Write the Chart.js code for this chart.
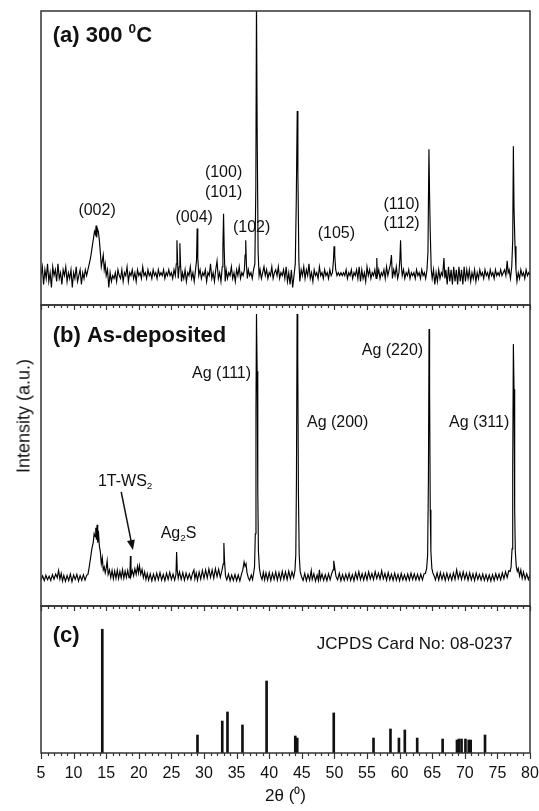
<!DOCTYPE html>
<html><head><meta charset="utf-8">
<script src="https://cdn.jsdelivr.net/npm/chart.js@4.4.0/dist/chart.umd.min.js"></script>
<style>
html,body{margin:0;padding:0;background:#fff;}
#wrap{position:relative;width:539px;height:811px;background:#fff;overflow:hidden;}
#wrap canvas{position:absolute;left:0;top:0;}
#ytitle{position:absolute;left:23.5px;top:416px;transform:translate(-50%,-50%) rotate(-90deg);font:18px "Liberation Sans",Arial,sans-serif;color:#111;white-space:nowrap;}
</style></head><body>
<div id="wrap">
<canvas id="ca" width="539" height="811"></canvas>
<canvas id="cb" width="539" height="811"></canvas>
<canvas id="cc" width="539" height="811"></canvas>
<div id="ytitle">Intensity (a.u.)</div>
</div>
<script>
// ---------------- DATA ----------------
const xTicks = [5,10,15,20,25,30,35,40,45,50,55,60,65,70,75,80];

// (a) annealed at 300 °C : [2θ, intensity (a.u.)]
const scanA = [
[5.0,10],[5.2,13],[5.4,7],[5.6,12],[5.8,9],[6.0,14],[6.2,8],[6.4,11],[6.6,6],[6.8,13],
[7.0,10],[7.2,12],[7.4,8],[7.6,14],[7.8,9],[8.0,11],[8.2,7],[8.4,12],[8.6,10],[8.8,13],
[9.0,8],[9.2,11],[9.4,9],[9.6,12],[9.8,6],[10.0,11],[10.2,9],[10.4,13],[10.6,8],[10.8,10],
[11.0,12],[11.2,7],[11.4,11],[11.6,9],[11.8,12],[12.0,10],[12.2,12],[12.4,14],[12.6,16],[12.8,19],
[13.0,22],[13.2,25],[13.35,24],[13.45,27],[13.55,23],[13.65,26],[13.8,25],[13.95,22],[14.1,18],[14.25,13],
[14.4,15],[14.55,17],[14.7,12],[14.85,14],[15.0,10],[15.2,12],[15.4,6],[15.6,11],[15.8,8],[16.0,10],
[16.2,9],[16.4,11],[16.6,8],[16.8,12],[17.0,10],[17.2,9],[17.4,12],[17.6,8],[17.8,11],[18.0,10],
[18.2,13],[18.4,8],[18.6,11],[18.8,10],[19.0,12],[19.2,9],[19.4,11],[19.6,8],[19.8,12],[20.0,10],
[20.2,11],[20.4,9],[20.6,13],[20.8,10],[21.0,11],[21.2,9],[21.4,12],[21.6,10],[21.8,11],[22.0,9],
[22.2,12],[22.4,10],[22.6,11],[22.8,9],[23.0,12],[23.2,10],[23.4,11],[23.6,10],[23.8,12],[24.0,9],
[24.2,11],[24.4,10],[24.6,12],[24.8,10],[25.0,11],[25.2,9],[25.4,12],[25.6,10],[25.75,14],[25.85,22],
[25.95,15],[26.05,9],[26.2,13],[26.3,21],[26.4,14],[26.55,8],[26.7,11],[26.9,9],[27.1,12],[27.3,8],
[27.5,11],[27.7,10],[27.9,13],[28.1,9],[28.3,11],[28.5,8],[28.7,12],[28.85,15],[28.95,26],[29.05,16],
[29.2,10],[29.4,12],[29.6,9],[29.8,11],[30.0,10],[30.2,12],[30.4,8],[30.6,11],[30.8,10],[31.0,14],
[31.2,9],[31.4,11],[31.6,8],[31.8,12],[32.0,15],[32.2,9],[32.4,11],[32.6,8],[32.8,13],[32.9,20],
[33.0,31],[33.1,19],[33.25,8],[33.4,12],[33.6,9],[33.8,11],[34.0,10],[34.2,13],[34.4,9],[34.6,11],
[34.8,8],[35.0,12],[35.2,10],[35.4,13],[35.6,9],[35.8,11],[36.0,10],[36.2,12],[36.3,17],[36.4,22],
[36.5,14],[36.65,9],[36.8,12],[37.0,10],[37.2,11],[37.4,9],[37.6,12],[37.8,14],[37.95,40],[38.05,104],
[38.15,60],[38.3,18],[38.45,10],[38.6,12],[38.8,9],[39.0,11],[39.2,13],[39.4,10],[39.6,12],[39.8,9],
[40.0,11],[40.2,10],[40.4,13],[40.6,9],[40.8,11],[41.0,12],[41.2,10],[41.4,13],[41.6,9],[41.8,11],
[42.0,10],[42.2,12],[42.4,9],[42.6,13],[42.8,8],[43.0,11],[43.2,7],[43.4,12],[43.6,6],[43.8,10],
[44.0,14],[44.15,35],[44.3,66],[44.4,45],[44.55,15],[44.7,8],[44.9,12],[45.1,10],[45.3,13],[45.5,9],
[45.7,12],[45.9,10],[46.1,14],[46.3,9],[46.5,11],[46.7,8],[46.9,12],[47.1,10],[47.3,11],[47.5,9],
[47.7,13],[47.9,10],[48.1,11],[48.3,9],[48.5,12],[48.7,10],[48.9,11],[49.1,9],[49.3,12],[49.5,10],
[49.7,11],[49.85,15],[49.95,20],[50.05,17],[50.2,12],[50.4,10],[50.6,11],[50.8,10],[51.0,11],[51.2,10],
[51.4,11],[51.6,10],[51.8,12],[52.0,9],[52.2,11],[52.4,10],[52.6,12],[52.8,9],[53.0,11],[53.2,10],
[53.4,12],[53.6,9],[53.8,13],[54.0,8],[54.2,12],[54.4,9],[54.6,11],[54.8,8],[55.0,13],[55.2,10],
[55.4,12],[55.6,9],[55.8,11],[56.0,10],[56.2,12],[56.4,9],[56.5,16],[56.6,10],[56.8,12],[57.0,9],
[57.2,11],[57.4,10],[57.6,12],[57.8,9],[58.0,13],[58.2,10],[58.4,12],[58.6,14],[58.75,17],[58.9,9],
[59.1,12],[59.3,10],[59.5,13],[59.7,9],[59.9,11],[60.05,16],[60.15,22],[60.25,14],[60.4,10],[60.6,12],
[60.8,9],[61.0,11],[61.2,10],[61.4,12],[61.6,9],[61.8,11],[62.0,10],[62.2,11],[62.4,9],[62.6,12],
[62.8,10],[63.0,11],[63.2,9],[63.4,12],[63.6,10],[63.8,11],[64.0,9],[64.2,12],[64.35,18],[64.5,53],
[64.6,37],[64.7,25],[64.85,12],[65.0,9],[65.2,12],[65.4,7],[65.6,11],[65.8,8],[66.0,12],[66.2,9],
[66.4,11],[66.6,10],[66.8,16],[66.95,9],[67.1,12],[67.3,7],[67.5,13],[67.7,8],[67.9,12],[68.1,7],
[68.3,13],[68.5,8],[68.7,12],[68.9,7],[69.1,13],[69.3,8],[69.5,12],[69.7,7],[69.9,13],[70.1,8],
[70.3,12],[70.5,9],[70.7,12],[70.9,8],[71.1,11],[71.3,9],[71.5,12],[71.7,8],[71.9,11],[72.1,9],
[72.3,12],[72.5,10],[72.7,11],[72.9,9],[73.1,12],[73.3,10],[73.5,11],[73.7,9],[73.9,12],[74.1,10],
[74.3,11],[74.5,9],[74.7,12],[74.9,10],[75.1,11],[75.3,10],[75.5,12],[75.7,10],[75.9,11],[76.1,12],
[76.3,10],[76.5,15],[76.65,11],[76.8,12],[77.0,9],[77.2,13],[77.35,22],[77.45,54],[77.55,33],[77.7,20],
[77.85,12],[78.0,8],[78.2,11],[78.4,9],[78.6,12],[78.8,10],[79.0,11],[79.2,9],[79.4,12],[79.6,10],
[79.8,11],[80.0,10]
];

// (b) as-deposited : [2θ, intensity (a.u.)]
const scanB = [
[5.0,8.6],[5.25,10.0],[5.5,8.4],[5.75,10.2],[6.0,8.7],[6.25,9.9],[6.5,8.5],[6.75,10.4],[7.0,8.9],[7.25,10.6],
[7.5,9.4],[7.7,11.8],[7.9,8.9],[8.1,10.8],[8.3,8.3],[8.5,10.2],[8.75,8.2],[9.0,10.1],[9.25,8.4],[9.5,10.6],
[9.75,8.1],[10.0,10.3],[10.25,8.8],[10.5,10.5],[10.75,8.3],[11.0,10.1],[11.25,8.5],[11.5,10.4],[11.75,8.6],[12.0,10.2],
[12.2,10.5],[12.4,13],[12.6,16],[12.8,19],[13.0,21],[13.15,24],[13.3,23],[13.4,26],[13.5,22],[13.6,27],
[13.7,21],[13.8,25],[13.95,20],[14.1,18],[14.25,14],[14.4,16],[14.55,12],[14.7,13],[14.85,11],[15.0,12.5],
[15.15,15],[15.3,10.5],[15.5,12],[15.7,9.4],[15.9,11.8],[16.1,9.0],[16.3,11.6],[16.5,9.2],[16.7,11.9],[16.9,9.1],
[17.1,11.5],[17.3,9.3],[17.5,12.1],[17.7,9.2],[17.9,11.6],[18.1,9.5],[18.3,11.8],[18.5,9.4],[18.65,12],[18.72,16.6],
[18.8,10.0],[19.0,11.8],[19.2,10.0],[19.4,12.4],[19.6,10.5],[19.8,13.2],[19.95,11.0],[20.1,13.4],[20.3,10.5],[20.5,12.2],
[20.7,9.4],[20.9,11.3],[21.1,8.8],[21.3,10.8],[21.5,8.6],[21.75,10.7],[22.0,8.4],[22.25,10.6],[22.5,8.5],[22.75,10.9],
[23.0,8.7],[23.25,11.1],[23.5,8.6],[23.75,10.5],[24.0,8.4],[24.25,10.9],[24.5,8.8],[24.75,11.2],[25.0,8.8],[25.25,10.6],
[25.5,8.6],[25.7,10.5],[25.8,17.9],[25.9,12],[26.05,9.2],[26.25,11.3],[26.5,8.8],[26.75,11.1],[27.0,8.6],[27.25,10.9],
[27.5,8.9],[27.75,10.7],[28.0,8.8],[28.25,10.9],[28.45,12.0],[28.6,9.0],[28.8,11.0],[29.0,8.6],[29.25,11.3],[29.5,8.9],
[29.75,11.8],[30.0,9.2],[30.25,12.0],[30.5,9.3],[30.75,12.3],[31.0,9.5],[31.25,12.0],[31.5,9.2],[31.75,12.4],[32.0,9.8],
[32.25,12.2],[32.5,9.5],[32.75,11.8],[32.95,14],[33.05,20.9],[33.15,15],[33.3,10.0],[33.5,8.7],[33.75,10.6],[34.0,8.4],
[34.25,10.3],[34.5,8.5],[34.75,10.5],[35.0,8.4],[35.25,10.3],[35.5,8.3],[35.75,10.6],[35.95,12],[36.15,14.6],[36.3,13.2],
[36.45,14],[36.6,11],[36.8,9.4],[37.0,8.5],[37.25,10.3],[37.45,8.8],[37.6,10.8],[37.75,13],[37.87,24],[37.97,65],
[38.05,97],[38.15,78],[38.25,38],[38.35,18],[38.5,12.5],[38.7,10.0],[38.9,8.8],[39.1,11.2],[39.3,8.7],[39.5,11.0],
[39.75,8.6],[40.0,11.1],[40.25,8.5],[40.5,10.9],[40.75,8.8],[41.0,11.3],[41.25,8.6],[41.5,11.1],[41.75,8.7],[42.0,11.5],
[42.25,8.9],[42.5,11.3],[42.75,8.8],[43.0,11.6],[43.25,9.1],[43.5,11.4],[43.75,9.5],[43.95,11.8],[44.08,17],[44.18,42],
[44.28,97],[44.38,82],[44.48,38],[44.6,17],[44.75,11.5],[44.95,9.8],[45.2,8.5],[45.45,10.8],[45.7,8.4],[45.95,10.5],
[46.2,8.6],[46.45,11.8],[46.6,8.8],[46.85,10.7],[47.1,8.3],[47.35,10.3],[47.55,8.5],[47.7,12.0],[47.85,8.8],[48.1,10.6],
[48.35,8.5],[48.6,10.4],[48.85,8.4],[49.1,10.7],[49.35,8.7],[49.6,10.9],[49.8,12],[49.9,15],[50.0,13.5],[50.1,12],
[50.25,9.8],[50.5,8.7],[50.75,10.9],[51.0,8.4],[51.25,10.4],[51.5,8.5],[51.75,10.6],[52.0,8.7],[52.25,10.8],[52.5,8.5],
[52.75,10.4],[53.0,8.4],[53.25,11.0],[53.5,8.9],[53.75,11.4],[54.0,8.8],[54.25,10.7],[54.5,8.6],[54.75,10.9],[55.0,8.7],
[55.25,11.3],[55.5,9.0],[55.75,10.8],[56.0,8.8],[56.25,11.4],[56.5,9.1],[56.75,10.9],[57.0,8.9],[57.25,11.7],[57.5,9.0],
[57.75,10.8],[58.0,8.6],[58.25,11.1],[58.5,8.7],[58.75,10.6],[59.0,8.5],[59.25,10.9],[59.5,8.6],[59.75,10.5],[60.0,8.4],
[60.25,10.8],[60.5,8.7],[60.75,10.4],[61.0,8.5],[61.25,10.6],[61.5,8.6],[61.75,10.9],[62.0,8.8],[62.25,10.7],[62.5,8.7],
[62.75,10.5],[63.0,8.6],[63.25,10.6],[63.5,8.7],[63.75,10.7],[63.95,10.8],[64.15,12.5],[64.3,17],[64.42,42],[64.52,92],
[64.6,72],[64.7,32],[64.8,18],[64.95,12.5],[65.1,11],[65.3,10.0],[65.5,8.7],[65.75,11.0],[66.0,8.6],[66.25,11.1],
[66.5,8.8],[66.75,10.8],[67.0,8.5],[67.25,10.9],[67.5,8.7],[67.75,10.6],[68.0,8.6],[68.25,11.0],[68.5,8.8],[68.75,12.0],
[69.0,9.1],[69.25,11.1],[69.5,8.8],[69.75,11.3],[70.0,8.9],[70.25,10.9],[70.5,8.6],[70.75,11.0],[71.0,8.7],[71.25,10.7],
[71.5,8.5],[71.75,10.9],[72.0,8.8],[72.25,10.5],[72.5,8.6],[72.75,10.6],[73.0,8.5],[73.25,10.4],[73.5,8.4],[73.75,10.3],
[74.0,8.3],[74.25,10.4],[74.5,8.5],[74.75,10.7],[75.0,8.8],[75.25,10.6],[75.5,8.7],[75.75,11.0],[76.0,9.1],[76.25,11.4],
[76.5,9.5],[76.75,11.7],[76.95,11.5],[77.1,13],[77.25,19],[77.35,46],[77.45,87],[77.55,72],[77.65,32],[77.75,18],
[77.9,13],[78.05,11.5],[78.2,12.5],[78.4,10.0],[78.6,12.0],[78.8,9.2],[79.0,11.3],[79.25,8.9],[79.5,10.7],[79.75,8.8],
[80.0,10.4]
];

// (c) JCPDS 08-0237 reference lines
const cardAngles    = [14.4, 29.0, 32.8, 33.6, 35.9, 39.6, 44.0, 44.3, 49.9, 56.0, 58.6, 59.9, 60.8, 62.7, 66.6, 68.8, 69.1, 69.5, 70.1, 70.6, 70.9, 73.1];
const cardIntensity = [101, 14.7, 26.1, 33.5, 22.9, 58.8, 13.9, 12.2, 32.7, 12.2, 19.6, 12.2, 18.8, 12.2, 11.4, 10.6, 11.4, 11.4, 11.4, 10.6, 10.6, 14.7];

// annotations (text, 2θ, intensity)
const notesA = [
  {t:'(002)', x:13.6, y:32.7}, {t:'(004)', x:28.5, y:30.3},
  {t:'(100)', x:33.0, y:45.6}, {t:'(101)', x:33.0, y:38.8},
  {t:'(102)', x:37.3, y:26.9}, {t:'(105)', x:50.3, y:24.8},
  {t:'(110)', x:60.3, y:34.7}, {t:'(112)', x:60.3, y:28.2}
];
const notesB = [
  {t:'Ag (111)', x:32.7, y:77.7}, {t:'Ag (200)', x:50.5, y:61.5},
  {t:'Ag (220)', x:58.9, y:85.4}, {t:'Ag (311)', x:72.2, y:61.5},
  {t:'1T-WS_{2}', x:17.9, y:41.9}, {t:'Ag_{2}S', x:26.1, y:24.6}
];
const notesC = [ {t:'JCPDS Card No: 08-0237', x:62.3, y:89.8} ];
const arrowB = {from:[17.3, 37.9], to:[19.1, 18.6]};
const panelTitles = {a:{t:'(a) 300 ^{0}C', x:6.8, y:92.3}, b:{t:'(b) As-deposited', x:6.8, y:90.4}, c:{t:'(c)', x:6.8, y:97.1}};

// ---------------- DRAWING ----------------
const FONT = '"Liberation Sans", Arial, sans-serif';
const INK = '#111';

function drawRich(ctx, str, x, y, size, bold, align) {
  const parts = [];
  const re = /(\^\{[^}]*\}|_\{[^}]*\})/;
  str.split(re).forEach(p => {
    if (!p) return;
    if (p.startsWith('^{')) parts.push({t:p.slice(2,-1), m:'sup'});
    else if (p.startsWith('_{')) parts.push({t:p.slice(2,-1), m:'sub'});
    else parts.push({t:p, m:''});
  });
  const w = bold ? 'bold ' : '';
  let total = 0;
  parts.forEach(p => {
    p.s = p.m ? size * 0.62 : size;
    ctx.font = w + p.s + 'px ' + FONT;
    p.w = ctx.measureText(p.t).width;
    total += p.w;
  });
  let cx = align === 'left' ? x : align === 'right' ? x - total : x - total / 2;
  const base = y + size * 0.36;
  ctx.textAlign = 'left';
  ctx.textBaseline = 'alphabetic';
  ctx.fillStyle = INK;
  parts.forEach(p => {
    ctx.font = w + p.s + 'px ' + FONT;
    let by = base;
    if (p.m === 'sup') by = base - size * 0.38;
    if (p.m === 'sub') by = base + size * 0.22;
    ctx.fillText(p.t, cx, by);
    cx += p.w;
  });
}

function framePlugin(id, opts) {
  return {
    id: id,
    afterDraw(chart) {
      const {ctx, chartArea: a, scales} = chart;
      const xs = scales.x, ys = scales.y;
      ctx.save();
      (opts.notes || []).forEach(n => {
        drawRich(ctx, n.t, xs.getPixelForValue(n.x), ys.getPixelForValue(n.y), opts.noteSize || 16, false, 'center');
      });
      if (opts.title) {
        drawRich(ctx, opts.title.t, xs.getPixelForValue(opts.title.x), ys.getPixelForValue(opts.title.y), 22, true, 'left');
      }
      if (opts.arrow) {
        const x1 = xs.getPixelForValue(opts.arrow.from[0]), y1 = ys.getPixelForValue(opts.arrow.from[1]);
        const x2 = xs.getPixelForValue(opts.arrow.to[0]), y2 = ys.getPixelForValue(opts.arrow.to[1]);
        const ang = Math.atan2(y2 - y1, x2 - x1);
        const hl = 10, hw = 4;
        ctx.strokeStyle = INK; ctx.fillStyle = INK; ctx.lineWidth = 1.5;
        ctx.beginPath(); ctx.moveTo(x1, y1);
        ctx.lineTo(x2 - Math.cos(ang) * hl * 0.8, y2 - Math.sin(ang) * hl * 0.8); ctx.stroke();
        ctx.beginPath();
        ctx.moveTo(x2, y2);
        ctx.lineTo(x2 - Math.cos(ang) * hl + Math.sin(ang) * hw, y2 - Math.sin(ang) * hl - Math.cos(ang) * hw);
        ctx.lineTo(x2 - Math.cos(ang) * hl - Math.sin(ang) * hw, y2 - Math.sin(ang) * hl + Math.cos(ang) * hw);
        ctx.closePath(); ctx.fill();
      }
      ctx.strokeStyle = '#333';
      ctx.lineWidth = 1.5;
      ctx.strokeRect(a.left, a.top, a.right - a.left, a.bottom - a.top);
      ctx.lineWidth = 1.2;
      for (let v = xs.min; v <= xs.max; v++) {
        const px = Math.round(xs.getPixelForValue(v)) + 0.5;
        const major = xTicks.includes(v);
        if (opts.topTicks) {
          const len = major ? 5 : 3;
          ctx.beginPath(); ctx.moveTo(px, a.top); ctx.lineTo(px, a.top + len); ctx.stroke();
        }
        if (opts.bottomTicks) {
          const len = major ? 6 : 3;
          ctx.beginPath(); ctx.moveTo(px, a.bottom); ctx.lineTo(px, a.bottom + len); ctx.stroke();
        }
      }
      ctx.restore();
    }
  };
}

const hiddenX = {type:'linear', min:5, max:80, display:false};
function baseOptions(pad, ymax) {
  return {
    responsive:false, animation:false, devicePixelRatio:1,
    layout:{padding:pad},
    plugins:{legend:{display:false}, tooltip:{enabled:false}},
    scales:{x:Object.assign({}, hiddenX), y:{type:'linear', min:0, max:ymax, display:false}}
  };
}

const lineStyle = {borderColor:'#000', borderWidth:1.15, pointRadius:0, tension:0, fill:false};

new Chart(document.getElementById('ca'), {
  type:'line',
  data:{datasets:[Object.assign({data:scanA}, lineStyle)]},
  options:baseOptions({left:41, right:9, top:11, bottom:506}, 100),
  plugins:[framePlugin('fa', {notes:notesA, title:panelTitles.a, topTicks:false})]
});

new Chart(document.getElementById('cb'), {
  type:'line',
  data:{datasets:[Object.assign({data:scanB}, lineStyle)]},
  options:baseOptions({left:41, right:9, top:305, bottom:205}, 100),
  plugins:[framePlugin('fb', {notes:notesB, title:panelTitles.b, arrow:arrowB, topTicks:true})]
});

const optC = baseOptions({left:41, right:9, top:606, bottom:0}, 120);
optC.scales.x = {
  type:'linear', min:5, max:80, offset:false, display:true,
  grid:{display:false, drawTicks:false},
  border:{display:false},
  afterBuildTicks: s => { s.ticks = xTicks.map(v => ({value:v})); },
  ticks:{font:{size:16, family:FONT}, color:INK, padding:11, maxRotation:0, autoSkip:false},
  title:{display:true, text:'2θ (⁰)', font:{size:17, family:FONT}, color:INK, padding:{top:0, bottom:4}},
  afterFit: s => { s.height = 58; s.paddingLeft = 0; s.paddingRight = 0; }
};
new Chart(document.getElementById('cc'), {
  type:'bar',
  data:{datasets:[{data:cardAngles.map((a, i) => ({x:a, y:cardIntensity[i]})), backgroundColor:'#111', borderWidth:0, barThickness:2}]},
  options:optC,
  plugins:[framePlugin('fc', {notes:notesC, noteSize:17, title:panelTitles.c, topTicks:true, bottomTicks:true})]
});
</script>
</body></html>
